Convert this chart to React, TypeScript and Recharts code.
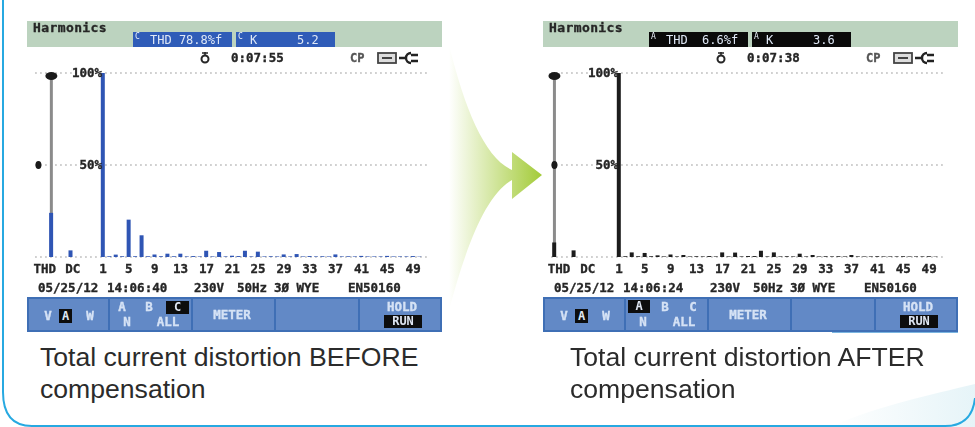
import React from "react";
import { BarChart, Bar, XAxis, YAxis, CartesianGrid, ReferenceLine, ReferenceDot } from "recharts";

// slots before harmonic 1 (THD and DC sit at different places on the two screens)
const beforePrefix = ["p0", "p1", "THD", "p3", "p4", "DC", "p6", "p7", "p8", "p9"];
const afterPrefix = ["THD", "p1", "p2", "DC", "p4", "p5", "p6", "p7", "p8", "p9"];
const harmonicNames = Array.from({ length: 50 }, (_, i) => String(i + 1));
const tailSlot = ["p51"];

const tickLabels = ["THD", "DC", "1", "5", "9", "13", "17", "21", "25", "29", "33", "37", "41", "45", "49"];
const percentTicks = [0, 50, 100];

const beforeThd = 24;
const beforeDc = 3.6;
const afterThd = 7.9;
const afterDc = 3.6;

// percent of fundamental, harmonics 1..50
const beforeHarmonics = [
  100, 0.4, 1.3, 0.4, 20.3, 0.4, 11.8, 0.4, 1.3, 0.4,
  1.8, 0.4, 1.8, 0.3, 0.5, 0.3, 3.4, 0.3, 2.7, 0.3,
  0.7, 0.5, 3.4, 0.3, 2.9, 0.3, 0.4, 0.3, 1.4, 0.3,
  1.6, 0.3, 0.5, 0.3, 0.4, 0.3, 1.4, 0.3, 0.4, 0.3,
  0.6, 0.3, 0.3, 0.3, 0.6, 0.3, 0.3, 0.3, 0.5, 0.2,
];
const afterHarmonics = [
  100, 0.4, 2.5, 0.4, 2.2, 0.4, 0.9, 0.3, 1.4, 0.3,
  1.1, 0.3, 0.4, 0.3, 0.5, 0.3, 2.5, 0.3, 2.4, 0.3,
  0.5, 0.5, 3.4, 0.3, 2.5, 0.3, 0.4, 0.3, 1.8, 0.3,
  1.1, 0.3, 0.4, 0.3, 0.4, 0.3, 1.1, 0.3, 0.3, 0.3,
  0.4, 0.3, 0.3, 0.3, 0.4, 0.3, 0.3, 0.3, 0.4, 0.2,
];

const buildRows = (prefix: string[], thd: number, dc: number, harmonics: number[]) => [
  ...prefix.map((name) => ({ name, value: name === "THD" ? thd : name === "DC" ? dc : null })),
  ...harmonicNames.map((name, i) => ({ name, value: harmonics[i] })),
  ...tailSlot.map((name) => ({ name, value: null })),
];

const beforeRows = buildRows(beforePrefix, beforeThd, beforeDc, beforeHarmonics);
const afterRows = buildRows(afterPrefix, afterThd, afterDc, afterHarmonics);

const MONO = "'DejaVu Sans Mono', monospace";
const INK = "#262626";
const KEY_TEXT = "#d5e2f5";

const Lcd = ({ x, y, children, color = INK, size = 12.5, bold = true, anchor = "left", style }: any) => (
  <div
    style={{
      position: "absolute",
      left: x,
      top: y - 9,
      height: 18,
      lineHeight: "18px",
      fontFamily: MONO,
      fontSize: size,
      fontWeight: bold ? 700 : 400,
      color,
      whiteSpace: "pre",
      WebkitTextStroke: bold ? `0.35px ${color}` : undefined,
      transform: anchor === "center" ? "translateX(-50%)" : undefined,
      ...style,
    }}
  >
    {children}
  </div>
);

const Chip = ({ x, w, bg, tag, label, value, labelX, valueX }: any) => (
  <div style={{ position: "absolute", left: x, top: 11, width: w, height: 15, background: bg }}>
    <Lcd x={2} y={5} size={8} color="#e8eef8" bold={false}>{tag}</Lcd>
    <Lcd x={labelX} y={8} size={12} color="#dfe8f6" bold={false}>{label}</Lcd>
    <Lcd x={valueX} y={8} size={12} color="#dfe8f6" bold={false}>{value}</Lcd>
  </div>
);

const KeyBox = ({ x, y, w, h, children }: any) => (
  <div
    style={{
      position: "absolute",
      left: x,
      top: y,
      width: w,
      height: h,
      lineHeight: `${h}px`,
      textAlign: "center",
      background: "#0d0d0d",
      color: "#dfe6f2",
      fontFamily: MONO,
      fontWeight: 700,
      fontSize: 12,
    }}
  >
    {children}
  </div>
);

const EyeMarker = ({ cx, cy }: any) => <ellipse cx={cx} cy={cy + 3} rx={6} ry={4} fill="#1a1a1a" />;
const SmallMarker = ({ cx, cy }: any) => <ellipse cx={cx} cy={cy} rx={3} ry={4} fill="#1a1a1a" />;

const Panel = ({ left, rows, barColor, chipBg, tag, thd, k, time, stamp, midMarker, labelShift, activeTop }: any) => {
  const renderXTick = ({ x, y, payload }: any) => {
    if (!tickLabels.includes(payload.value)) return <g />;
    return (
      <text
        x={x + (labelShift[payload.value] || 0)}
        y={y + 8}
        textAnchor="middle"
        fontFamily={MONO}
        fontWeight={700}
        fontSize={12.5}
        fill={INK}
        stroke={INK}
        strokeWidth={0.35}
      >
        {payload.value}
      </text>
    );
  };
  const renderYTick = ({ y, payload }: any) => {
    if (payload.value === 0) return <g />;
    return (
      <text
        x={75}
        y={y + 4}
        textAnchor="end"
        fontFamily={MONO}
        fontWeight={700}
        fontSize={12.5}
        fill={INK}
        stroke={INK}
        strokeWidth={0.35}
      >
        {payload.value}%
      </text>
    );
  };

  return (
    <div style={{ position: "absolute", left, top: 21, width: 415, height: 312, filter: "blur(0.55px)" }}>
      {/* title strip */}
      <div style={{ position: "absolute", left: 0, top: 0, width: 415, height: 26, background: "#bcd3bf" }} />
      <Lcd x={6} y={7} size={13} style={{ letterSpacing: 0.4 }}>Harmonics</Lcd>
      <Chip x={106} w={99} bg={chipBg} tag={tag} label={`THD ${thd}`} labelX={17} valueX={17} value="" />
      <Chip x={209} w={99} bg={chipBg} tag={tag} label="K" labelX={14} value={k} valueX={61} />

      {/* status row */}
      <svg style={{ position: "absolute", left: 170, top: 30 }} width={16} height={16}>
        <circle cx={8} cy={8} r={3.5} fill="none" stroke={INK} strokeWidth={2} />
        <path d="M8 1 V4 M5 2 L11 2" stroke={INK} strokeWidth={1.5} />
      </svg>
      <Lcd x={204} y={37}>{time}</Lcd>
      <Lcd x={323} y={37} size={12} color="#555">CP</Lcd>
      <svg style={{ position: "absolute", left: 350, top: 29 }} width={50} height={16}>
        <rect x={1} y={3} width={18} height={10} fill="#ddd" stroke="#444" strokeWidth={1.8} />
        <rect x={5} y={7} width={10} height={2} fill="#444" />
        <path d="M22 8 H29 M34 3 A5 5 0 0 0 34 13 M34 5 H41 M34 11 H41" fill="none" stroke="#222" strokeWidth={2.4} />
      </svg>

      <div style={{ position: "absolute", left: 0, top: 40 }}>
        <BarChart
          width={415}
          height={240}
          data={rows}
          barSize={4}
          margin={{ top: 12, right: 12.7, bottom: 14, left: 0.2 }}
        >
          <CartesianGrid vertical={false} stroke="#8c8c8c" strokeDasharray="1.5 3.5" />
          <XAxis
            dataKey="name"
            interval={0}
            height={30}
            axisLine={false}
            tickLine={false}
            tick={renderXTick}
            padding={{ left: 0, right: 0 }}
          />
          <YAxis
            width={8}
            domain={[0, 100]}
            ticks={percentTicks}
            axisLine={false}
            tickLine={false}
            tick={renderYTick}
          />
          <ReferenceLine x="THD" stroke="#8b8b8b" strokeWidth={3} zIndex={100} />
          <Bar dataKey="value" fill={barColor} isAnimationActive={false} />
          <ReferenceDot x="THD" y={100} shape={EyeMarker} />
          <ReferenceDot x={midMarker} y={50} shape={SmallMarker} />
        </BarChart>
      </div>

      {/* info row */}
      <Lcd x={11} y={267}>{stamp[0]}</Lcd>
      <Lcd x={80} y={267}>{stamp[1]}</Lcd>
      <Lcd x={167} y={267}>230V</Lcd>
      <Lcd x={210} y={267}>50Hz</Lcd>
      <Lcd x={247} y={267}>3Ø WYE</Lcd>
      <Lcd x={321} y={267}>EN50160</Lcd>

      {/* soft keys */}
      <div
        style={{
          position: "absolute",
          left: 0,
          top: 276,
          width: 411,
          height: 31,
          background: "#6289c6",
          border: "2px solid #3f6fb5",
        }}
      />
      {[81, 164, 247, 331].map((x) => (
        <div key={x} style={{ position: "absolute", left: x, top: 276, width: 2, height: 35, background: "#3f6fb5" }} />
      ))}
      <Lcd x={21} y={295} color={KEY_TEXT} anchor="center">V</Lcd>
      <KeyBox x={32} y={288} w={13} h={14}>A</KeyBox>
      <Lcd x={63} y={295} color={KEY_TEXT} anchor="center">W</Lcd>

      {activeTop === "A" ? (
        <KeyBox x={85} y={279} w={22} h={13}>A</KeyBox>
      ) : (
        <Lcd x={95} y={286} color={KEY_TEXT} anchor="center">A</Lcd>
      )}
      <Lcd x={122} y={286} color={KEY_TEXT} anchor="center">B</Lcd>
      {activeTop === "C" ? (
        <KeyBox x={139} y={280} w={23} h={13}>C</KeyBox>
      ) : (
        <Lcd x={150} y={286} color={KEY_TEXT} anchor="center">C</Lcd>
      )}
      <Lcd x={100} y={301} color={KEY_TEXT} anchor="center">N</Lcd>
      <Lcd x={141} y={301} color={KEY_TEXT} anchor="center">ALL</Lcd>
      <Lcd x={205} y={294} color={KEY_TEXT} anchor="center">METER</Lcd>
      <Lcd x={375} y={286} color={KEY_TEXT} anchor="center">HOLD</Lcd>
      <KeyBox x={357} y={294} w={38} h={13}>RUN</KeyBox>
    </div>
  );
};

const Caption = ({ x, lines }: any) => (
  <div
    style={{
      position: "absolute",
      left: x,
      top: 342,
      fontFamily: "'Liberation Sans', Arial, sans-serif",
      fontSize: 26.6,
      lineHeight: "31.5px",
      color: "#2b2b2b",
      whiteSpace: "pre",
    }}
  >
    {lines.join("\n")}
  </div>
);

export default function App() {
  return (
    <div style={{ position: "absolute", left: 0, top: 0, width: 975, height: 427, background: "#fff", overflow: "hidden" }}>
      <svg style={{ position: "absolute", left: 0, top: 0 }} width={975} height={427}>
        <defs>
          <linearGradient id="arrowFill" x1="0" x2="1" y1="0" y2="0">
            <stop offset="0" stopColor="#ffffff" />
            <stop offset="1" stopColor="#a3cb38" />
          </linearGradient>
          <linearGradient id="swoosh" x1="0" x2="1" y1="0" y2="0">
            <stop offset="0" stopColor="#ffffff" />
            <stop offset="1" stopColor="#e6f4f8" />
          </linearGradient>
        </defs>
        <path d="M830 427 C880 405 930 395 975 384 V427 Z" fill="url(#swoosh)" />
        <path d="M3 0 V392 Q3 426 32 426 H945 Q972 426 975 398" fill="none" stroke="#27a9e1" strokeWidth={2} />
        <path
          d="M449 45 C465 110 485 158 512 170 L512 152 L542 175 L512 199 L512 180 C485 195 465 250 449 310 Z"
          fill="url(#arrowFill)"
        />
      </svg>

      <Panel
        left={27}
        rows={beforeRows}
        barColor="#2f55b4"
        chipBg="#2f5cb8"
        tag="C"
        thd="78.8%f"
        k="5.2"
        time="0:07:55"
        stamp={["05/25/12", "14:06:40"]}
        midMarker="p0"
        labelShift={{ THD: -6.5, DC: 2 }}
        activeTop="C"
      />
      <Panel
        left={543}
        rows={afterRows}
        barColor="#1c1c1c"
        chipBg="#0a0a0a"
        tag="A"
        thd=" 6.6%f"
        k="3.6"
        time="0:07:38"
        stamp={["05/25/12", "14:06:24"]}
        midMarker="THD"
        labelShift={{ THD: 4.6, DC: 14 }}
        activeTop="A"
      />
      <div style={{ position: "absolute", left: 832, top: 332, width: 126, height: 1, background: "#7ab5e0" }} />

      <Caption x={40} lines={["Total current distortion BEFORE", "compensation"]} />
      <Caption x={570} lines={["Total current distortion AFTER", "compensation"]} />
    </div>
  );
}
